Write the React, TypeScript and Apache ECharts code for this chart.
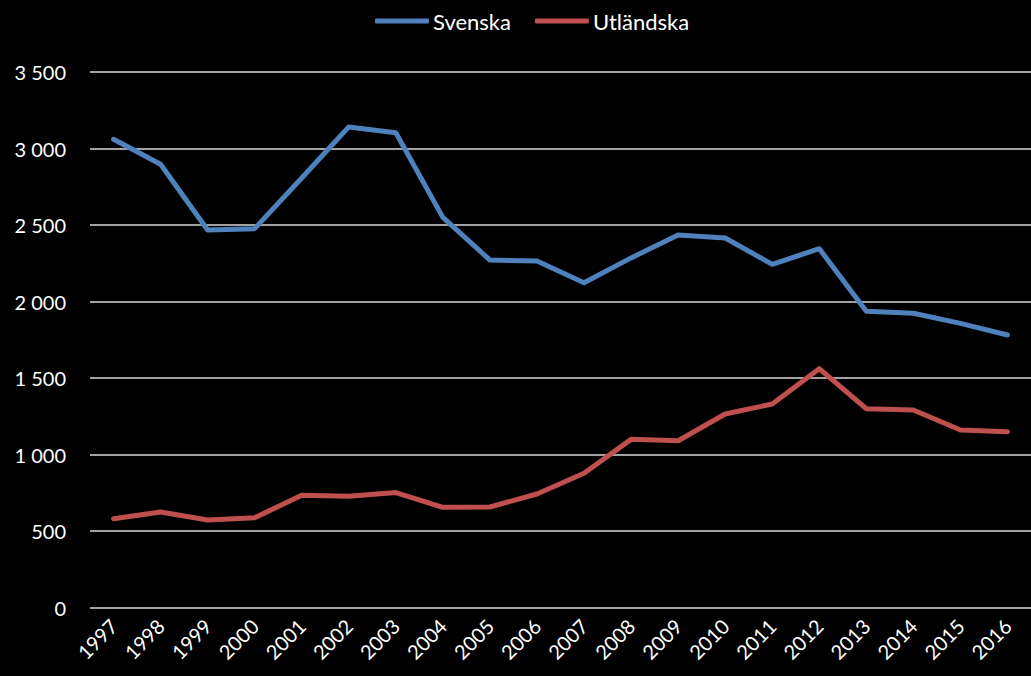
import React, { useEffect, useRef } from "react";
import * as echarts from "echarts";

const years = ["1997","1998","1999","2000","2001","2002","2003","2004","2005","2006","2007","2008","2009","2010","2011","2012","2013","2014","2015","2016"];
const svenska = [3060, 2897, 2467, 2476, 2807, 3141, 3103, 2550, 2271, 2265, 2123, 2285, 2435, 2415, 2243, 2345, 1936, 1923, 1857, 1781];
const utlandska = [580, 624, 572, 587, 733, 727, 751, 655, 657, 742, 877, 1099, 1090, 1265, 1330, 1561, 1299, 1291, 1160, 1149];
const seriesNames = ["Svenska", "Utländska"];
const colors = ["#4f81bd", "#c0504d"];

const fmt = (v: number) => {
  const s = String(Math.round(v));
  return s.replace(/\B(?=(\d{3})+(?!\d))/g, " ");
};

export default function App() {
  const ref = useRef<HTMLDivElement>(null);
  useEffect(() => {
    if (!ref.current) return;
    const chart = echarts.init(ref.current, null, { renderer: "svg" });
    const font = "Lato, 'Open Sans', sans-serif";
    chart.setOption({
      animation: false,
      backgroundColor: "#000000",
      textStyle: { fontFamily: font },
      legend: {
        top: 5,
        left: 370,
        icon: "roundRect",
        itemWidth: 54,
        itemHeight: 5,
        itemGap: 24,
        textStyle: { color: "#ffffff", fontSize: 22, fontFamily: font, padding: [0, 0, 0, -1] },
        data: seriesNames,
      },
      grid: { left: 90, right: -4, top: 72, bottom: 676 - 607.5, containLabel: false },
      xAxis: {
        type: "category",
        data: years,
        boundaryGap: true,
        axisLine: { show: false },
        axisTick: { show: false },
        axisLabel: { color: "#ffffff", fontSize: 20, rotate: 45, margin: 15, fontFamily: font },
      },
      yAxis: {
        type: "value",
        min: 0,
        max: 3500,
        interval: 500,
        axisLine: { show: false },
        axisTick: { show: false },
        axisLabel: { color: "#ffffff", fontSize: 20, margin: 24, fontFamily: font, formatter: (v: number) => fmt(v) },
        splitLine: { lineStyle: { color: "#d9d9d9", width: 1.5 } },
      },
      series: [
        {
          name: seriesNames[0],
          type: "line",
          data: svenska,
          symbol: "none",
          lineStyle: { color: colors[0], width: 5, cap: "round", join: "round" },
          itemStyle: { color: colors[0] },
        },
        {
          name: seriesNames[1],
          type: "line",
          data: utlandska,
          symbol: "none",
          lineStyle: { color: colors[1], width: 5, cap: "round", join: "round" },
          itemStyle: { color: colors[1] },
        },
      ],
    });
    return () => chart.dispose();
  }, []);
  return (
    <div
      ref={ref}
      style={{ position: "fixed", left: 0, top: 0, width: 1031, height: 676, background: "#000" }}
    />
  );
}
